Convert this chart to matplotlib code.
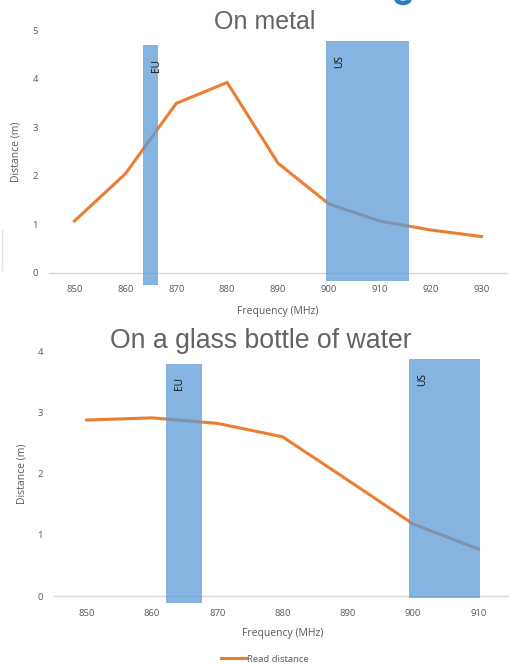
import matplotlib
matplotlib.use("Agg")
import matplotlib.pyplot as plt
from matplotlib.lines import Line2D
from matplotlib.patches import Arc

# ---------------- data ----------------
freq_metal = [850, 860, 870, 880, 890, 900, 910, 920, 930]
dist_metal = [1.07, 2.04, 3.49, 3.92, 2.26, 1.42, 1.07, 0.885, 0.75]

freq_water = [850, 860, 870, 880, 890, 900, 910]
dist_water = [2.885, 2.92, 2.83, 2.61, 1.90, 1.18, 0.77]

band_labels = ["EU", "US"]
# (start freq, end freq, bottom, top)
bands_metal = [(863.4, 866.5, -0.25, 4.69), (899.4, 915.7, -0.16, 4.77)]
bands_water = [(862.1, 867.7, -0.12, 3.81), (899.4, 910.2, -0.04, 3.88)]

title_metal = "On metal"
title_water = "On a glass bottle of water"
xlabel = "Frequency (MHz)"
ylabel = "Distance (m)"
legend_label = "Read distance"

# ---------------- style ----------------
ORANGE = "#ED7D31"
BLUE = "#5B9BD5"
TXT = "#595959"
AXC = "#D9D9D9"
TICKFONT = "Open Sans"
TITLEFONT = "Liberation Sans"

fig = plt.figure(figsize=(5.10, 6.64), dpi=100)
W, H = 510, 664


def make_axes(x0, x1, y0_px, ytop_px):
    return fig.add_axes([x0 / W, 1 - y0_px / H, (x1 - x0) / W, (y0_px - ytop_px) / H])


def style(ax, freqs, dists, bands, xlim, ylim, yticks, ylab_x, xlab_y):
    ax.plot(freqs, dists, color=ORANGE, lw=2.2, zorder=2, solid_joinstyle="miter")
    for (f0, f1, b0, b1), lab in zip(bands, band_labels):
        ax.bar(f0, b1 - b0, width=f1 - f0, bottom=b0, align="edge",
               color=BLUE, alpha=0.75, lw=0, zorder=3, clip_on=False)
        ax.annotate(lab, xy=(f0, b1), xytext=(10, -10), textcoords="offset points",
                    rotation=90, ha="center", va="top", fontsize=7.3,
                    family=TICKFONT, color="#111111", zorder=4)
    ax.set_xlim(*xlim)
    ax.set_ylim(*ylim)
    ax.set_xticks(freqs)
    ax.set_yticks(yticks)
    for s in ["top", "right", "left"]:
        ax.spines[s].set_visible(False)
    ax.spines["bottom"].set_color(AXC)
    ax.spines["bottom"].set_linewidth(1)
    ax.spines["bottom"].set_zorder(1)
    ax.tick_params(axis="both", length=0, labelsize=6.8, labelcolor=TXT)
    ax.tick_params(axis="x", pad=9)
    ax.tick_params(axis="y", pad=8)
    for t in ax.get_xticklabels() + ax.get_yticklabels():
        t.set_family(TICKFONT)
    ax.set_xlabel(xlabel, fontsize=7.5, color=TXT, family=TICKFONT)
    ax.set_ylabel(ylabel, fontsize=7.5, color=TXT, family=TICKFONT)
    ax.xaxis.set_label_coords(0.5, xlab_y)
    ax.yaxis.set_label_coords(ylab_x, 0.5)
    ax.patch.set_alpha(0)


ax1 = make_axes(49, 507, 273, 30)
style(ax1, freq_metal, dist_metal, bands_metal, (845, 935), (0, 5), [0, 1, 2, 3, 4, 5],
      -0.059, -0.136)

ax2 = make_axes(54, 511, 596, 352)
style(ax2, freq_water, dist_water, bands_water, (845, 915), (0, 4), [0, 1, 2, 3, 4],
      -0.057, -0.131)

fig.text(265 / W, 1 - 22 / H, title_metal, ha="center", va="center",
         fontsize=18, color="#636363", family=TITLEFONT)
fig.text(261 / W, 1 - 341 / H, title_water, ha="center", va="center",
         fontsize=19.2, color="#636363", family=TITLEFONT)

handle = Line2D([], [], color=ORANGE, lw=2.2)
fig.legend([handle], [legend_label], loc="center", bbox_to_anchor=(265 / W, 1 - 659 / H),
           frameon=False, handlelength=2.6, handletextpad=0.1,
           prop={"family": TICKFONT, "size": 6.8}, labelcolor=TXT)

# cropped slide-header fragment (bottom of a blue glyph) and left-edge artifact
fig.add_artist(Arc((403 / W, 1 + 2 / H), 14 / W, 10 / H, theta1=180, theta2=360,
                   color="#2E7BC4", lw=3.2, transform=fig.transFigure))
fig.add_artist(Line2D([2 / W, 2 / W], [1 - 230 / H, 1 - 270 / H], color="#E0E0E0", lw=1))

fig.savefig("out.png", dpi=100)
